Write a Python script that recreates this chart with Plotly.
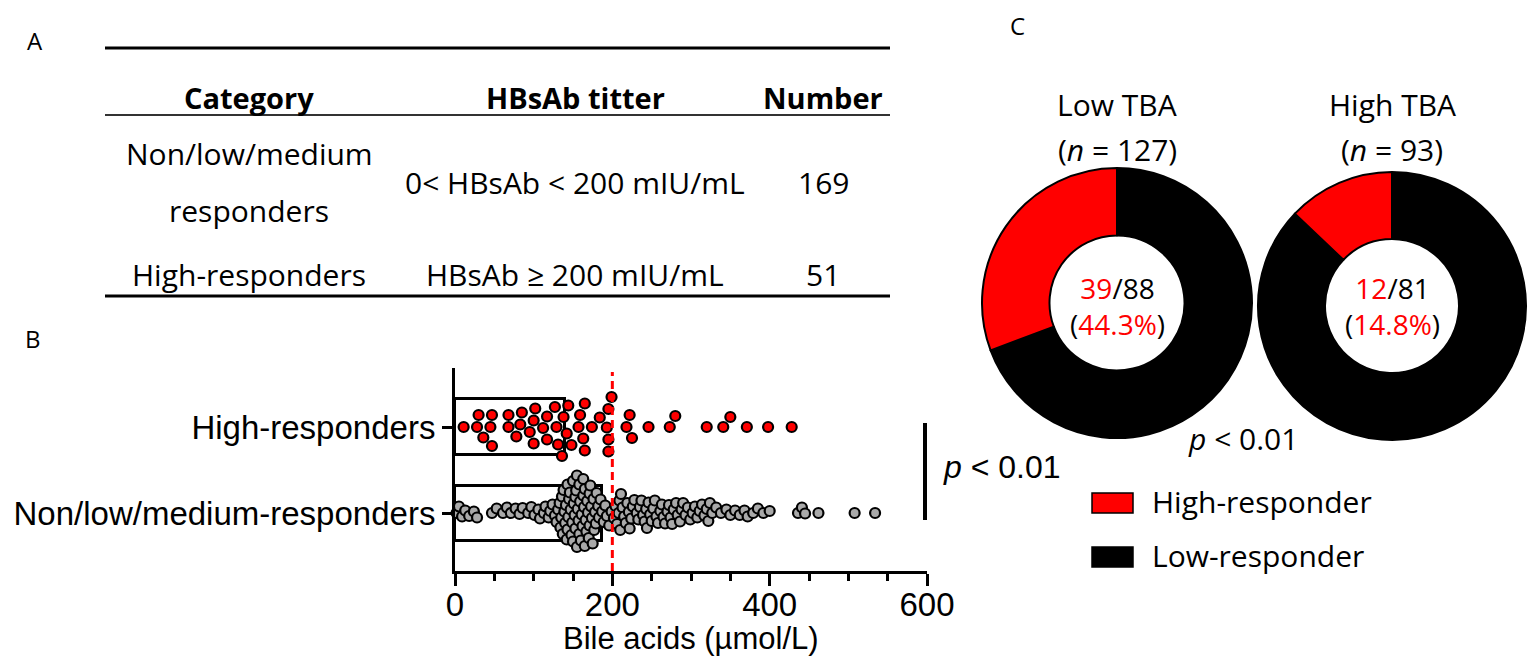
import numpy as np
import plotly.graph_objects as go

# ---------------- data ----------------
table_headers = ["Category", "HBsAb titter", "Number"]
table_categories = [["Non/low/medium", "responders"], ["High-responders"]]
table_titers = ["0< HBsAb < 200 mIU/mL", "HBsAb ≥ 200 mIU/mL"]
table_numbers = [169, 51]

groups = ["Non/low/medium-responders", "High-responders"]
group_means = [187, 140]
cutoff = 200
x_ticks = [0, 200, 400, 600]
x_title = "Bile acids (µmol/L)"

high_bile = [11, 28, 30, 36, 45, 47, 47, 68, 68, 78,
             83, 85, 95, 100, 100, 102, 112, 117, 117, 127,
             129, 131, 136, 138, 142, 144, 148, 157, 159, 163,
             165, 165, 174, 184, 193, 195, 195, 195, 199, 218,
             222, 225, 246, 273, 280, 320, 341, 350, 371, 398,
             428]

low_bile = [2, 5, 9, 13, 18, 24, 28,
            47, 53, 61, 66, 71, 77, 82, 86, 93, 97,
            101, 106, 108, 113, 115, 119, 121, 124, 127, 129,
            131, 133, 134, 135, 136, 137, 138, 139, 140, 141,
            142, 143, 143, 144, 145, 146, 147, 148, 149, 150,
            150, 151, 152, 153, 153, 154, 155, 155, 156, 157,
            158, 158, 159, 160, 161, 162, 163, 163, 164, 165,
            165, 166, 167, 168, 169, 170, 171, 171, 172, 173,
            174, 175, 176, 177, 178, 179, 180, 182, 183, 185,
            187, 189,
            191, 193, 196, 199, 202, 204, 206, 208, 209, 210,
            211, 213, 215, 217, 219, 221, 222, 224, 226, 228,
            231, 233, 235, 237, 239, 241, 243, 244, 246, 248,
            250, 252, 254, 256, 258, 261, 263, 265, 267, 270,
            272, 274, 276, 278, 281, 283, 286, 288, 290, 293,
            296, 299, 302, 305, 308, 311, 314, 317, 320, 322,
            324, 327,
            332, 338, 345, 350, 356, 362, 368, 372, 379, 385, 392, 400,
            436, 441, 445, 462, 508, 534]

donut_titles = ["Low TBA", "High TBA"]
donut_n = [127, 93]
donut_high = [39, 12]
donut_low = [88, 81]
legend_labels = ["High-responder", "Low-responder"]

# ---------------- helpers ----------------
# the plot fills the page body: offset (OX, OY), size (WE, HE) in screen pixels
OX, OY, WE, HE = 8, 8, 1520, 649


def px(x):
    return (x - OX) / WE


def py(y):
    return 1 - (y - OY) / HE


CAL = "Open Sans, Lato, sans-serif"
ARI = "Liberation Sans, Arial, sans-serif"
RED = "#FF0000"
GREY = "#A9A9A9"

AX_L, AX_R, AX_B, AX_T = 455, 927, 571, 368
Y_RANGE = [-0.674, 1.686]
X_RANGE = [0, 600]
sx = (AX_R - AX_L) / (X_RANGE[1] - X_RANGE[0])
sy = (AX_B - AX_T) / (Y_RANGE[1] - Y_RANGE[0])


def swarm(vals, d):
    vals = np.asarray(vals, float)
    order = np.argsort(vals, kind="stable")
    pxs, pys = [], []
    off = np.zeros(len(vals))
    cands = [0.0]
    for s in np.arange(0.5, 60, 0.5):
        cands += [s, -s]
    for i in order:
        x = vals[i] * sx
        ax_ = np.array(pxs)
        ay_ = np.array(pys)
        chosen = 0.0
        for c in cands:
            if len(ax_) == 0 or np.all((ax_ - x) ** 2 + (ay_ - c) ** 2 >= d * d):
                chosen = c
                break
        pxs.append(x)
        pys.append(chosen)
        off[i] = chosen
    return off / sy


def note(x, y, text, size, family=CAL, xanchor="center", color="black"):
    return dict(x=px(x), y=py(y), xref="paper", yref="paper", text=text,
                showarrow=False, xanchor=xanchor, yanchor="middle",
                font=dict(family=family, size=size, color=color))


fig = go.Figure()

# ---------------- panel B ----------------
fig.add_trace(go.Bar(
    x=group_means, y=[0, 1], orientation="h", width=0.64,
    marker=dict(color="white", line=dict(color="black", width=3)),
    xaxis="x", yaxis="y", showlegend=False, hoverinfo="skip"))

low_off = swarm(low_bile, 6.5)
high_off = swarm(high_bile, 12)

fig.add_trace(go.Scatter(
    x=low_bile, y=0 + low_off, mode="markers",
    marker=dict(size=10, color=GREY, line=dict(color="black", width=2.2)),
    xaxis="x", yaxis="y", showlegend=False, cliponaxis=False))
fig.add_trace(go.Scatter(
    x=high_bile, y=1 + high_off, mode="markers",
    marker=dict(size=10, color=RED, line=dict(color="black", width=2.2)),
    xaxis="x", yaxis="y", showlegend=False, cliponaxis=False))

# ---------------- panel C ----------------
donut_domains = [
    dict(x=[px(982), px(1252)], y=[py(438), py(168)]),
    dict(x=[px(1258), px(1526)], y=[py(440), py(172)]),
]
donut_cx = [1117, 1392]
for k in range(2):
    fig.add_trace(go.Pie(
        values=[donut_low[k], donut_high[k]], labels=legend_labels[::-1],
        hole=0.5, sort=False, direction="clockwise", rotation=0,
        marker=dict(colors=["#000000", RED], line=dict(color="black", width=2)),
        textinfo="none", hoverinfo="label+value", showlegend=False,
        domain=donut_domains[k]))

shapes = []
annotations = []

# table lines
shapes.append(dict(type="line", xref="paper", yref="paper", x0=px(105), x1=px(890),
                   y0=py(48), y1=py(48), line=dict(color="black", width=3)))
shapes.append(dict(type="line", xref="paper", yref="paper", x0=px(105), x1=px(890),
                   y0=py(115), y1=py(115), line=dict(color="#333333", width=2)))
shapes.append(dict(type="line", xref="paper", yref="paper", x0=px(105), x1=px(890),
                   y0=py(296), y1=py(296), line=dict(color="black", width=3)))

col_x = [249, 575, 823]
for j, h in enumerate(table_headers):
    annotations.append(note(col_x[j], 97, "<b>" + h + "</b>", 29))
row_y = [182, 274]
for i in range(2):
    lines = table_categories[i]
    if len(lines) == 2:
        annotations.append(note(col_x[0], 153, lines[0], 30))
        annotations.append(note(col_x[0], 210, lines[1], 30))
    else:
        annotations.append(note(col_x[0], row_y[i], lines[0], 30))
    annotations.append(note(col_x[1], row_y[i], table_titers[i], 30))
    annotations.append(note(col_x[2], row_y[i], str(table_numbers[i]), 30))

# panel letters
for t, x, y in [("A", 35, 40), ("B", 33, 338), ("C", 1017, 26)]:
    annotations.append(note(x, y, t, 24))

# x-axis title
annotations.append(note(691, 638, x_title, 31, family=ARI))

# cutoff line
shapes.append(dict(type="line", xref="x", yref="y domain", x0=cutoff, x1=cutoff,
                   y0=0, y1=0.98, line=dict(color=RED, width=3, dash="8px,5px")))

# significance in B
shapes.append(dict(type="line", xref="paper", yref="paper", x0=px(925), x1=px(925),
                   y0=py(423), y1=py(520), line=dict(color="black", width=4)))
annotations.append(note(1002, 467, "<i>p</i> < 0.01", 32, family=ARI))

# donut texts
for k in range(2):
    annotations.append(note(donut_cx[k], 104, donut_titles[k], 30))
    annotations.append(note(donut_cx[k], 149, "(<i>n</i> = %d)" % donut_n[k], 30))
    pct = donut_high[k] / donut_low[k] * 100
    annotations.append(note(
        donut_cx[k], 306,
        '<span style="color:%s">%d</span>/%d<br>(<span style="color:%s">%.1f%%</span>)'
        % (RED, donut_high[k], donut_low[k], RED, pct), 28))

annotations.append(note(1243, 438, "<i>p</i> < 0.01", 30))

# custom legend
leg_y = [503, 557]
leg_col = [RED, "#000000"]
for k in range(2):
    shapes.append(dict(type="rect", xref="paper", yref="paper",
                       x0=px(1092), x1=px(1133), y0=py(leg_y[k] + 10), y1=py(leg_y[k] - 10),
                       fillcolor=leg_col[k], line=dict(color="black", width=1.5)))
    annotations.append(note(1150, leg_y[k] - 2, legend_labels[k], 30, xanchor="left"))

fig.update_layout(
    margin=dict(l=0, r=0, t=0, b=0, autoexpand=False), autosize=True,
    paper_bgcolor="white", plot_bgcolor="white", showlegend=False,
    shapes=shapes, annotations=annotations, bargap=0,
    xaxis=dict(domain=[px(AX_L), px(AX_R)], range=X_RANGE, tickvals=x_ticks,
               ticks="outside", ticklen=12, tickwidth=3, tickcolor="black",
               showline=True, linewidth=3, linecolor="black", showgrid=False,
               zeroline=False, anchor="y", automargin=False,
               ticklabelstandoff=-10,
               minor=dict(ticks="outside", dtick=50, ticklen=7, tickwidth=3,
                          tickcolor="black", showgrid=False),
               tickfont=dict(family=ARI, size=33, color="black")),
    yaxis=dict(domain=[py(AX_B), py(AX_T)], range=Y_RANGE, tickvals=[0, 1],
               ticktext=groups, ticks="outside", ticklen=10, tickwidth=3,
               tickcolor="black", showline=True, linewidth=3, linecolor="black",
               showgrid=False, zeroline=False, anchor="x", automargin=False,
               tickfont=dict(family=ARI, size=33, color="black")),
)

fig.write_html("out.html")
